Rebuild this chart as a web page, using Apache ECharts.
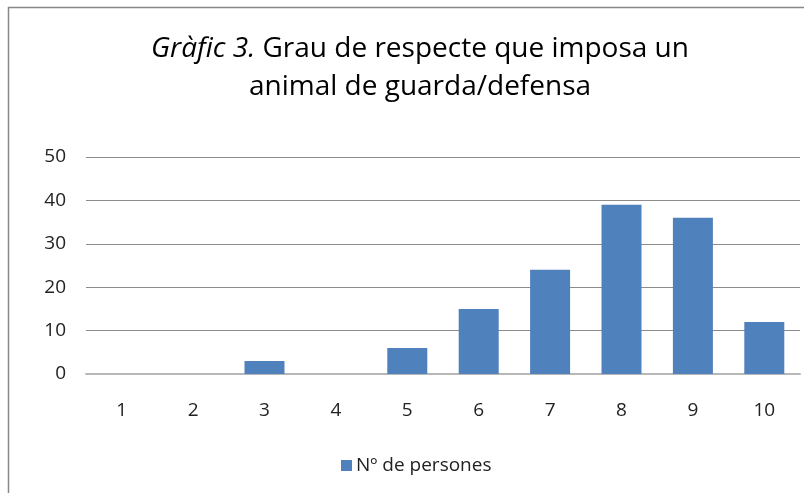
<!DOCTYPE html>
<html><head><meta charset="utf-8">
<script src="https://cdn.jsdelivr.net/npm/echarts@6/dist/echarts.min.js"></script>
<style>html,body{margin:0;padding:0;background:#fff}#c{width:804px;height:493px}</style>
</head><body><div id="c"></div>
<script>
const categories = ['1','2','3','4','5','6','7','8','9','10'];
const values = [0,0,3,0,6,15,24,39,36,12];
const seriesName = 'Nº de persones';
const yTicks = [0,10,20,30,40,50];

const chart = echarts.init(document.getElementById('c'), null, {renderer:'canvas'});
const F = '"Open Sans", sans-serif';
chart.setOption({
  animation:false,
  graphic:[{type:'rect', shape:{x:8.5,y:7.5,width:900,height:600}, style:{fill:null, stroke:'#888', lineWidth:1.5}, silent:true}],
  title:{
    text:'{i|Gràfic 3.} Grau de respecte que imposa un\nanimal de guarda/defensa',
    left:415, textAlign:'center', top:25,
    textStyle:{fontFamily:F, fontSize:28, fontWeight:'normal', color:'#000', lineHeight:38,
      rich:{i:{fontFamily:F, fontSize:28, fontStyle:'italic', color:'#000'}}}
  },
  grid:{left:86, right:4, top:157, bottom:119},
  legend:{bottom:13, left:336, itemWidth:11, itemHeight:11, icon:'rect', itemGap:4,
    textStyle:{fontFamily:F, fontSize:19, color:'#222', padding:[0,0,0,-1]}, data:[seriesName]},
  xAxis:{type:'category', data:categories,
    axisLine:{lineStyle:{color:'#b8b8b8', width:2}}, axisTick:{show:false},
    axisLabel:{fontFamily:F, fontSize:19, color:'#222', margin:27}},
  yAxis:{type:'value', min:0, max:50, interval:10,
    axisLine:{show:false}, axisTick:{show:false},
    axisLabel:{fontFamily:F, fontSize:19, color:'#222', margin:20},
    splitLine:{lineStyle:{color:'#8c8c8c', width:1}}},
  series:[{name:seriesName, type:'bar', data:values, barWidth:40,
    itemStyle:{color:'#4F81BD', borderWidth:0}}]
});
</script></body></html>
